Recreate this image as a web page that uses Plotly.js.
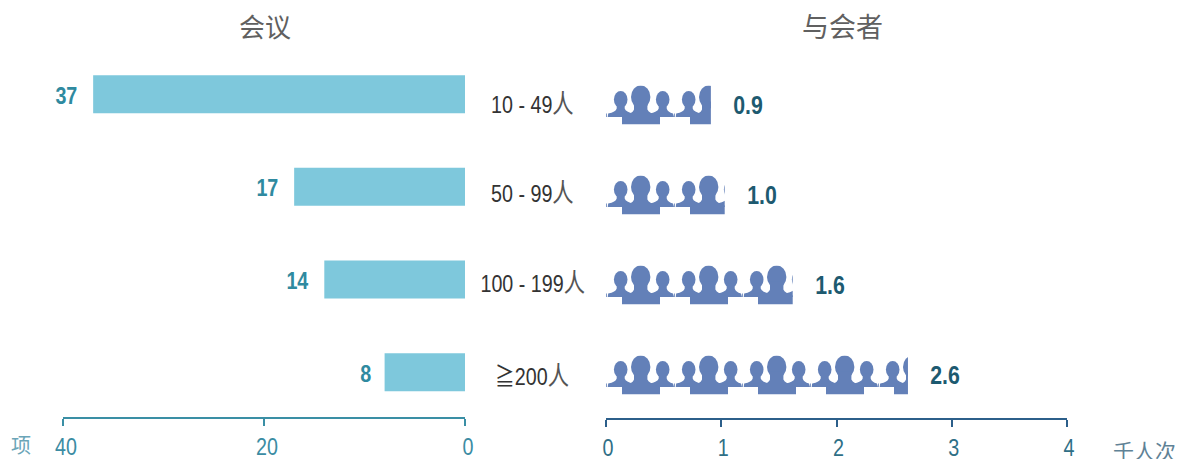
<!DOCTYPE html>
<html><head><meta charset="utf-8">
<script src="https://cdn.plot.ly/plotly-3.0.1.min.js"></script>
<style>html,body{margin:0;padding:0;background:#fff}#c{width:1178px;height:459px}</style>
</head><body><div id="c"></div>
<script>
const categories = ["10 - 49人", "50 - 99人", "100 - 199人", "≧200人"];
const meetings = [37, 17, 14, 8];
const attendees = [0.91, 1.03, 1.62, 2.62];
const leftTicks = [0, 20, 40];
const rightTicks = [0, 1, 2, 3, 4];

const W = 1178, H = 459;
const LATIN = '"Liberation Sans",Arial,sans-serif';
const CJK = '"Noto Sans CJK SC","Liberation Sans",sans-serif';
const rows = categories.map((_, i) => i);
const tileUnits = 0.59;

function tile(frac) {
  const vw = 68 * frac;
  const c = '#6380b8';
  const small = (cx, le, re) => `<ellipse cx="${cx}" cy="14" rx="6.8" ry="8.5"/><path d="M${cx-4} 18 L${cx+4} 18 L${cx+4} 23 Q${cx+5} 26.5 ${cx+re-1} 28 L${cx+re} 31.5 L${cx-le} 31.5 L${cx-le+0.5} 28 Q${cx-5} 26.5 ${cx-4} 23 Z"/>`;
  const svg = `<svg xmlns="http://www.w3.org/2000/svg" width="${vw}" height="39" viewBox="0 0 ${vw} 39" preserveAspectRatio="none"><g fill="${c}">` +
    small(14.7, 13, 14) + small(56.7, 14, 11.3) +
    `<rect x="0" y="28" width="0.8" height="3.5"/>` +
    `<ellipse cx="34.7" cy="11.5" rx="9.7" ry="11.5"/>` +
    `<path d="M28 16 L41.4 16 L41.4 24 Q43 28 54 31 L54 39 L16 39 L16 31 Q27 28 28 24 Z"/>` +
    `</g></svg>`;
  return 'data:image/svg+xml;base64,' + btoa(svg);
}

const images = [];
attendees.forEach((v, i) => {
  for (let k = 0; k * tileUnits < v; k++) {
    const w = Math.min(tileUnits, v - k * tileUnits);
    images.push({
      source: tile(w / tileUnits), xref: 'x2', yref: 'y2',
      x: k * tileUnits, y: i, sizex: w, sizey: 39 / 90,
      xanchor: 'left', yanchor: 'middle', sizing: 'stretch', layer: 'above'
    });
  }
});

const annotations = [];
meetings.forEach((v, i) => annotations.push({
  xref: 'x', yref: 'y', x: v, y: i, xanchor: 'right', yanchor: 'middle', xshift: -11, yshift: -1,
  text: '<b>' + v + '</b>', showarrow: false,
  font: { family: LATIN, size: 24, color: '#2f8aa0' }
}));
attendees.forEach((v, i) => annotations.push({
  xref: 'x2', yref: 'y2', x: v, y: i, xanchor: 'left', yanchor: 'middle', xshift: 17,
  text: '<b>' + v.toFixed(1) + '</b>', showarrow: false,
  font: { family: LATIN, size: 26, color: '#1d5a70' }
}));
categories.forEach((t, i) => annotations.push({
  xref: 'paper', yref: 'y2', x: 532 / W, y: i, xanchor: 'center', yanchor: 'middle', yshift: i === 3 ? 1 : 4,
  text: t.replace('人', '<span style="font-size:26px;font-family:\'Noto Sans CJK SC\';fill:#555555">人</span>')
         .replace('≧', '<span style="font-family:\'Noto Sans CJK SC\'">≧</span>'),
  showarrow: false,
  font: { family: LATIN, size: 24, color: '#333333' }
}));
function paperText(text, x, y, size, color) {
  annotations.push({ xref: 'paper', yref: 'paper', x: x / W, y: 1 - y / H, xanchor: 'center', yanchor: 'middle',
    text, showarrow: false, font: { family: CJK, size, color } });
}
paperText('会议', 265, 26, 26, '#606060');
paperText('与会者', 842, 26, 27, '#606060');
paperText('项', 21, 444, 20, '#6aa5b8');
paperText('千人次', 1144, 450, 21, '#5f8296');

const traces = [
  { type: 'bar', orientation: 'h', x: meetings, y: rows, xaxis: 'x', yaxis: 'y', width: 38 / 92.67,
    marker: { color: '#7ec8dc' }, hoverinfo: 'x' },
  { type: 'bar', orientation: 'h', x: attendees, y: rows, xaxis: 'x2', yaxis: 'y2', width: 39 / 90,
    marker: { color: 'rgba(0,0,0,0)' }, hoverinfo: 'x' }
];

const axisBase = {
  showgrid: false, zeroline: false, showline: true, linewidth: 2, ticks: 'outside', ticklen: 7, tickwidth: 2,
  ticklabelstandoff: 0
};
const layout = {
  width: W, height: H, margin: { l: 0, r: 0, t: 0, b: 0 }, showlegend: false,
  paper_bgcolor: '#fff', plot_bgcolor: 'rgba(0,0,0,0)',
  xaxis: Object.assign({}, axisBase, {
    domain: [63 / W, 465 / W], range: [40, 0], anchor: 'y', tickvals: leftTicks, ticklabelshift: -3,
    linecolor: '#3a8fa5', tickcolor: '#3a8fa5',
    tickfont: { family: LATIN, size: 24, color: '#3b8ca3' }
  }),
  yaxis: { visible: false, range: [3.484, -0.5], domain: [1 - 417 / H, 1 - 47.8 / H] },
  xaxis2: Object.assign({}, axisBase, {
    domain: [606 / W, 1067 / W], range: [0, 4], anchor: 'y2', tickvals: rightTicks, ticklabelshift: 2,
    linecolor: '#2c5f8a', tickcolor: '#2c5f8a',
    tickfont: { family: LATIN, size: 24, color: '#2f6f86' }
  }),
  yaxis2: { visible: false, range: [3.478, -0.5], domain: [1 - 418 / H, 1 - 60 / H] },
  images, annotations
};
Plotly.newPlot('c', traces, layout, { displayModeBar: false, staticPlot: true }).then(gd => {
  // The reference's Latin text is a condensed face; squeeze the real text horizontally.
  const squeeze = el => {
    const len = el.getComputedTextLength();
    el.setAttribute('textLength', (len * 0.82).toFixed(1));
    el.setAttribute('lengthAdjust', 'spacingAndGlyphs');
  };
  gd.querySelectorAll('.xtick text, .x2tick text').forEach(squeeze);
  gd.querySelectorAll('.annotation text').forEach(el => {
    if (/[0-9]/.test(el.textContent)) squeeze(el);
  });
});
</script></body></html>
